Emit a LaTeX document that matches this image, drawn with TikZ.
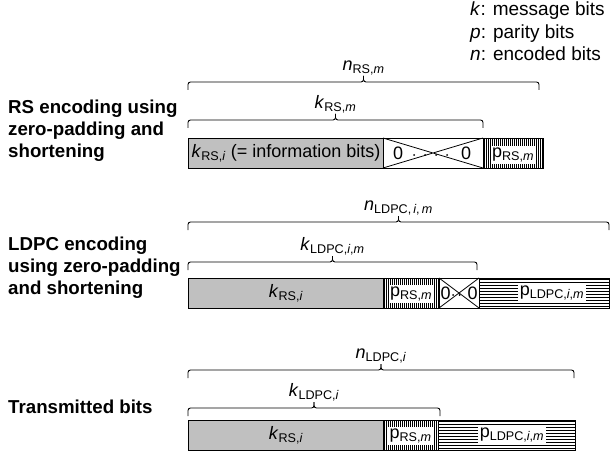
\documentclass[tikz,border=0pt]{standalone}
\usepackage{fontspec}
\setmainfont{Liberation Sans}
\definecolor{infogray}{RGB}{192,192,192}

% curly-brace style span marker: ends bend down, centre tick points up
\newcommand\bitbrace[3]{%
  \pgfmathsetmacro\bxc{(#1+#2)/2}%
  \draw[spanline] (#1,#3+8) -- (#1,#3) -- (\bxc,#3) -- (\bxc,#3-6);
  \draw[spanline] (\bxc,#3-6) -- (\bxc,#3) -- (#2,#3) -- (#2,#3+8);
}
% vertically hatched field (x1,y1,x2,y2)
\newcommand\vhatch[4]{%
  \pgfmathsetmacro\hstart{#1+1.1}%
  \pgfmathsetmacro\hnext{#1+3.1}%
  \begin{scope}
    \clip (#1,#2) rectangle (#3,#4);
    \foreach \hx in {\hstart,\hnext,...,#3} \draw[line width=0.8pt] (\hx,#2) -- (\hx,#4);
  \end{scope}
  \draw[fieldedge] (#1,#2) rectangle (#3,#4);
}
% horizontally hatched field (x1,y1,x2,y2)
\newcommand\hhatch[4]{%
  \pgfmathsetmacro\hstart{#2+1.5}%
  \pgfmathsetmacro\hnext{#2+4.5}%
  \begin{scope}
    \clip (#1,#2) rectangle (#3,#4);
    \foreach \hy in {\hstart,\hnext,...,#4} \draw[line width=1pt] (#1,\hy) -- (#3,\hy);
  \end{scope}
  \draw[fieldedge] (#1,#2) rectangle (#3,#4);
}
% zero-padding field with a cross
\newcommand\zerofield[4]{%
  \draw[fieldedge, fill=white] (#1,#2) rectangle (#3,#4);
  \draw[line width=0.8pt] (#1,#2) -- (#3,#4) (#1,#4) -- (#3,#2);
}

\begin{document}
\begin{tikzpicture}[x=1pt, y=-1pt,
    spanline/.style={line width=0.9pt, rounded corners=2.5pt},
    fieldedge/.style={line width=0.9pt},
    infofield/.style={draw, line width=0.9pt, fill=infogray, inner sep=0pt,
                      anchor=north west},
    lbl/.style={font=\fontsize{18}{22}\selectfont, inner sep=1pt},
    whitelbl/.style={lbl, fill=white, inner sep=1.5pt},
    zerodots/.style={line width=2pt, line cap=round, dash pattern=on 0pt off 11pt},
    rowtitle/.style={font=\fontsize{18.7}{22}\selectfont\bfseries, align=left,
                     anchor=north west, inner sep=0pt},
    legend/.style={font=\fontsize{19}{22.5}\selectfont, align=left,
                   anchor=north west, inner sep=0pt}]
\useasboundingbox (0,0) rectangle (612,454);

% legend
\node[legend] (legend) at (470,2) {\textit{k}: message bits\\ \textit{p}: parity bits\\ \textit{n}: encoded bits};

% ---------------- RS encoding ----------------
\node[rowtitle] (titleRS) at (8,100) {RS encoding using\\ zero-padding and\\ shortening};

\bitbrace{188}{539}{82}
\node[lbl, anchor=south] (nRSm) at (363.5,76) {\textit{n}\textsubscript{RS,\textit{m}}};
\bitbrace{188}{483}{120}
\node[lbl, anchor=south] (kRSm) at (335.5,114) {\textit{k}\textsubscript{RS,\textit{m}}};

\node[infofield, minimum width=195pt, minimum height=30pt] (infoA) at (188,138) {};
\node[lbl] (infoAtxt) at (infoA.center) {\textit{k}\textsubscript{RS,\textit{i}} (= information bits)};
\zerofield{383}{138}{483}{168}
\node[lbl] (zA1) at (398,153) {0};
\node[lbl] (zA2) at (466,153) {0};
\coordinate (dA1) at (414,155);
\coordinate (dA2) at (451,155);
\draw[zerodots] (dA1) -- (dA2);
\vhatch{483}{138}{543}{168}
\node[whitelbl] (pRSA) at (513,155) {p\textsubscript{RS,\textit{m}}};

% ---------------- LDPC encoding ----------------
\node[rowtitle] (titleLDPC) at (8,237) {LDPC encoding\\ using zero-padding\\ and shortening};

\bitbrace{188}{609}{222}
\node[lbl, anchor=south] (nLDPCim) at (398.5,216) {\textit{n}\textsubscript{LDPC,\,\textit{i},\,\textit{m}}};
\bitbrace{188}{477}{262}
\node[lbl, anchor=south] (kLDPCim) at (332.5,256) {\textit{k}\textsubscript{LDPC,\textit{i},\textit{m}}};

\node[infofield, minimum width=195pt, minimum height=30pt] (infoB) at (188,278) {};
\node[lbl] (infoBtxt) at (infoB.center) {\textit{k}\textsubscript{RS,\textit{i}}};
\vhatch{383}{278}{439}{308}
\node[whitelbl] (pRSB) at (411,294) {p\textsubscript{RS,\textit{m}}};
\zerofield{439}{278}{479}{308}
\node[lbl, inner sep=0pt] (zB1) at (445.5,293) {0};
\node[lbl, inner sep=0pt] (zB2) at (472.5,293) {0};
\coordinate (dB1) at (453,295);
\coordinate (dB2) at (466,295);
\draw[zerodots, dash pattern=on 0pt off 6.5pt] (dB1) -- (dB2);
\hhatch{479}{278}{609}{308}
\node[whitelbl] (pLDPCB) at (552,293) {p\textsubscript{LDPC,\textit{i},\textit{m}}};

% ---------------- transmitted bits ----------------
\node[rowtitle] (titleTx) at (8,400) {Transmitted bits};

\bitbrace{188}{574}{370}
\node[lbl, anchor=south] (nLDPCi) at (381,364) {\textit{n}\textsubscript{LDPC,\textit{i}}};
\bitbrace{188}{440}{408}
\node[lbl, anchor=south] (kLDPCi) at (314,402) {\textit{k}\textsubscript{LDPC,\textit{i}}};

\node[infofield, minimum width=195pt, minimum height=30pt] (infoC) at (188,420) {};
\node[lbl] (infoCtxt) at (infoC.center) {\textit{k}\textsubscript{RS,\textit{i}}};
\vhatch{383}{420}{438}{450}
\node[whitelbl] (pRSC) at (410.5,436) {p\textsubscript{RS,\textit{m}}};
\hhatch{438}{420}{575}{450}
\node[whitelbl] (pLDPCC) at (512,435) {p\textsubscript{LDPC,\textit{i},\textit{m}}};
\end{tikzpicture}
\end{document}
